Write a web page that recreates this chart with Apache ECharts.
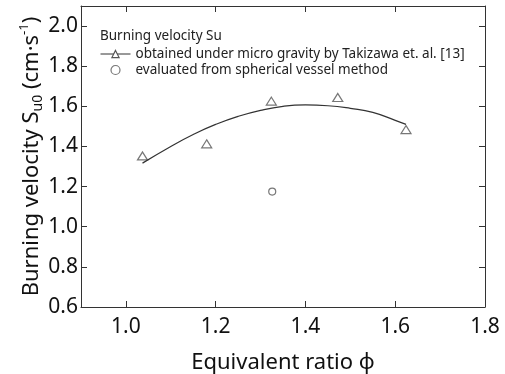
<!DOCTYPE html>
<html>
<head>
<meta charset="utf-8">
<script src="https://cdn.jsdelivr.net/npm/echarts@6/dist/echarts.min.js"></script>
<style>
  html, body { margin: 0; padding: 0; background: #fff; }
  #chart { width: 505px; height: 374px; }
</style>
</head>
<body>
<div id="chart"></div>
<script>
// measured points (Takizawa et al., micro gravity)
var microX = [1.037, 1.18, 1.324, 1.472, 1.624];
var microY = [1.353, 1.413, 1.626, 1.644, 1.484];

// fitted curve
var fitX = [1.037, 1.10, 1.15, 1.20, 1.25, 1.30, 1.35, 1.40, 1.45, 1.50, 1.55, 1.60, 1.624];
var fitY = [1.317, 1.40, 1.46, 1.51, 1.55, 1.58, 1.60, 1.607, 1.603, 1.59, 1.57, 1.53, 1.51];

// spherical vessel method
var vesselX = [1.326];
var vesselY = [1.175];

var xTicks = [1.0, 1.2, 1.4, 1.6, 1.8];
var yTicks = [0.6, 0.8, 1.0, 1.2, 1.4, 1.6, 1.8, 2.0];

var nameMicro = 'obtained under micro gravity by Takizawa et. al. [13]';
var nameVessel = 'evaluated from spherical vessel method';

var zip = function (xs, ys) {
    return xs.map(function (x, i) { return [x, ys[i]]; });
};

var font = 'Noto Sans';
var frameColor = '#333';
var markColor = '#555';

var chartDom = document.getElementById('chart');
var myChart = echarts.init(chartDom);

var baseAxis = {
    type: 'value',
    axisLine: { show: true, onZero: false, lineStyle: { color: frameColor, width: 1 } },
    splitLine: { show: false }
};
var tick = function (vals) {
    return { show: true, inside: true, length: 6, lineStyle: { color: frameColor }, customValues: vals };
};

var option = {
    animation: false,
    textStyle: { fontFamily: font },
    title: {
        text: 'Burning velocity Su',
        left: 95,
        top: 24,
        textStyle: { fontSize: 13.5, fontWeight: 'normal', color: '#222', fontFamily: font }
    },
    legend: {
        orient: 'vertical',
        left: 95,
        top: 42,
        itemWidth: 30,
        itemHeight: 9,
        itemGap: 2,
        data: [nameMicro, nameVessel],
        lineStyle: { width: 1, color: '#333' },
        itemStyle: { color: '#fff', borderColor: markColor, borderWidth: 1.2 },
        textStyle: { fontSize: 13.5, color: '#222', fontFamily: font }
    },
    grid: { left: 81, right: 20, top: 6, bottom: 67, containLabel: false, outerBoundsMode: 'none' },
    xAxis: [
        Object.assign({}, baseAxis, {
            position: 'bottom',
            min: 0.9,
            max: 1.8,
            name: 'Equivalent ratio ϕ',
            nameLocation: 'middle',
            nameGap: 45,
            nameMoveOverlap: false,
            nameTextStyle: { fontSize: 22, color: '#111', fontFamily: font },
            axisTick: tick(xTicks.slice(0, 4)),
            axisLabel: {
                customValues: xTicks,
                fontSize: 21,
                color: '#111',
                margin: 10,
                formatter: function (v) { return v.toFixed(1); }
            }
        }),
        Object.assign({}, baseAxis, {
            position: 'top',
            min: 0.9,
            max: 1.8,
            axisTick: tick(xTicks.slice(0, 4)),
            axisLabel: { show: false }
        })
    ],
    yAxis: [
        Object.assign({}, baseAxis, {
            position: 'left',
            min: 0.6,
            max: 2.1,
            name: '{n|Burning velocity S}{sub|u0}{n| (cm·s}{sup|-1}{n|)}',
            nameLocation: 'middle',
            nameGap: 36,
            nameMoveOverlap: false,
            nameTextStyle: {
                color: '#111',
                fontFamily: font,
                rich: {
                    n: { fontSize: 22, color: '#111', fontFamily: font },
                    sub: { fontSize: 14, color: '#111', fontFamily: font, verticalAlign: 'bottom', padding: [9, 0, 0, 0] },
                    sup: { fontSize: 13, color: '#111', fontFamily: font, verticalAlign: 'top', padding: [0, 0, 14, 0] }
                }
            },
            axisTick: tick(yTicks),
            axisLabel: {
                customValues: yTicks,
                fontSize: 21,
                color: '#111',
                margin: 3,
                formatter: function (v) { return v.toFixed(1); }
            }
        }),
        Object.assign({}, baseAxis, {
            position: 'right',
            min: 0.6,
            max: 2.1,
            axisTick: tick(yTicks),
            axisLabel: { show: false }
        })
    ],
    series: [
        {
            name: nameMicro,
            type: 'line',
            data: zip(fitX, fitY),
            smooth: true,
            symbol: 'triangle',
            symbolSize: 9,
            showSymbol: false,
            lineStyle: { color: frameColor, width: 1.2 },
            itemStyle: { color: '#fff', borderColor: markColor, borderWidth: 1.2 }
        },
        {
            name: nameMicro,
            type: 'scatter',
            data: zip(microX, microY),
            symbol: 'triangle',
            symbolSize: [10, 8],
            itemStyle: { color: 'transparent', borderColor: markColor, borderWidth: 1.2 }
        },
        {
            name: nameVessel,
            type: 'scatter',
            data: zip(vesselX, vesselY),
            symbol: 'circle',
            symbolSize: 7,
            itemStyle: { color: 'transparent', borderColor: markColor, borderWidth: 1.2 }
        }
    ]
};

option && myChart.setOption(option);
</script>
</body>
</html>
